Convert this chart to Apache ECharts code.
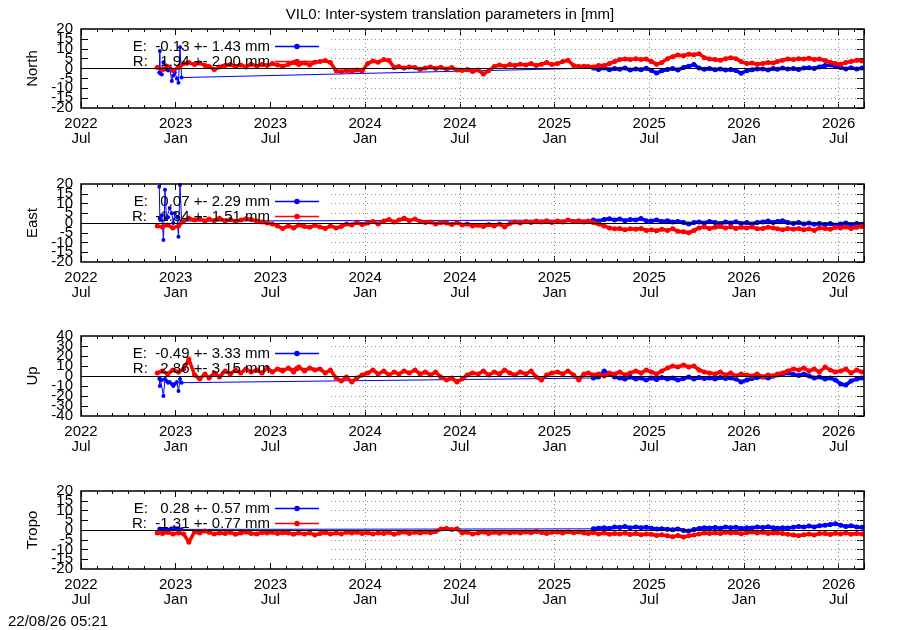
<!DOCTYPE html>
<html>
<head>
<meta charset="utf-8">
<title>VIL0 inter-system translation</title>
<script src="https://cdn.jsdelivr.net/npm/echarts@6/dist/echarts.min.js"></script>
<style>
  html, body { margin: 0; padding: 0; background: #fff; }
  #chart { width: 900px; height: 630px; }
</style>
</head>
<body>
<div id="chart"></div>
<script>
const FONT = "'Liberation Sans', Arial, sans-serif";
const FS = 15;
const DAY = 86400000;
const START = Date.UTC(2022, 6, 1);   // x axis starts 2022 Jul
const X_MAX = 1510;                   // days, ~2026-08-20
const HALF_YEAR = 182.625;
const MONTH = 30.4375;
const GRID_FROM = 482;                // key box hides the grid left of ~2023-10-26
const MONTHS = ["Jan", "Feb", "Mar", "Apr", "May", "Jun", "Jul", "Aug", "Sep", "Oct", "Nov", "Dec"];

// sample dates: three per month (5th, 15th, 25th)
function tenDays(from, to) {
  const out = [];
  let [y, m] = from.split("-").map(Number);
  const [y2, m2] = to.split("-").map(Number);
  while (y < y2 || (y === y2 && m <= m2)) {
    const mm = String(m).padStart(2, "0");
    out.push(`${y}-${mm}-05`, `${y}-${mm}-15`, `${y}-${mm}-25`);
    m++;
    if (m > 12) { m = 1; y++; }
  }
  return out;
}

const redDates = ["2022-11-25"].concat(tenDays("2022-12", "2026-07"), ["2026-08-05", "2026-08-15"]);
const blueEarlyDates = [
  "2022-11-29", "2022-11-30", "2022-12-01", "2022-12-04", "2022-12-07", "2022-12-10",
  "2022-12-13", "2022-12-16", "2022-12-19", "2022-12-23", "2022-12-26", "2022-12-29",
  "2023-01-02", "2023-01-05", "2023-01-08", "2023-01-11",
];
const blueLateDates = ["2025-03-15", "2025-03-25"].concat(tenDays("2025-04", "2026-07"), ["2026-08-05", "2026-08-15"]);
const blueDates = blueEarlyDates.concat(blueLateDates);

// ---- North ----
const northE_early = [-2.0, 8.9, -2.5, -3.0, 3.2, -0.5, 1.5, -1.0, 0.5, -6.3, -3.5, -2.0, -5.0, -7.2, 10.8, -4.6];
const northE_late = [
  0.2, -0.5,
  0.3, -0.6, 0.0, -0.4, 0.3, -0.8, -0.2, -0.6, 0.1, -1.0, -2.3, -1.2, -0.5, 0.0, -0.7,
  0.5, 1.2, 2.0, 0.2, -0.4, 0.0, -0.6, -0.2, -0.8, -0.5, -1.0, -2.4,
  -1.2, -0.6, -0.2, -0.2, -0.7, 0.0, -0.4, 0.2, -0.3, 0.0, -0.5, 0.3,
  0.4, 0.0, 0.8, 1.5, 1.8, 1.0, 0.5, -0.2, 0.4,
  -0.3, 0.2,
];
const northR = [
  0.5, -0.5, 1.0, -1.0,
  // 2023
  0.5, 2.5, 3.0, 2.0, 2.8, 1.5, 1.0, -0.5, 0.8, 1.5, 2.0, 1.0,
  1.8, 0.8, 2.2, 1.2, 2.0, 1.5, 2.5, 1.8, 1.0, 2.2, 3.0, 2.0,
  2.8, 1.8, 3.2, 3.5, 4.0, 3.0, -1.2, -1.6, -1.0, -1.5, -0.8, -1.3,
  // 2024
  2.5, 3.8, 3.2, 4.5, 4.0, 0.5, 1.0, 0.2, 0.8, 0.5, -0.5, 0.3,
  0.8, 0.0, 0.6, -0.3, 0.5, -0.8, -1.0, -0.5, -1.5, -0.8, -2.8, -1.2,
  1.0, 1.8, 1.2, 2.0, 1.5, 2.2, 1.8, 2.5, 1.5, 2.2, 3.0, 2.0,
  // 2025
  2.5, 3.5, 4.2, 1.5, 1.0, 1.2, 1.0, 0.8, 1.5, 1.5, 2.5, 3.5,
  4.5, 4.8, 4.5, 5.0, 4.5, 4.8, 3.5, 2.2, 3.0, 5.0, 6.0, 6.8,
  6.5, 7.2, 7.0, 7.5, 5.5, 4.8, 4.5, 4.2, 5.0, 5.5, 5.0, 3.5,
  // 2026
  2.5, 2.8, 2.2, 2.5, 3.0, 2.8, 3.5, 4.2, 4.8, 4.5, 5.0, 4.8,
  5.2, 4.5, 4.8, 4.0, 3.2, 2.5, 2.2, 3.0, 3.5, 4.2, 3.8,
];

// ---- East ----
const eastE_early = [18.6, 2.4, 1.5, 4.0, -8.7, 17.0, 2.4, 3.0, 7.7, 5.0, 0.0, 5.0, 3.0, -7.0, 19.5, 1.0];
const eastE_late = [
  1.5, 1.0,
  1.8, 2.2, 1.5, 2.0, 1.2, 1.8, 1.5, 2.3, 1.2, 1.0, 1.5, 0.8, 1.2, 0.5, 0.8,
  0.3, -0.5, 0.2, 0.5, 0.0, 0.8, 0.3, -0.3, 0.5, 0.0, 0.6, -0.2,
  0.2, -0.5, 0.3, 0.5, 1.0, 0.2, 0.8, 1.2, 0.3, -0.2, 0.3, -0.5,
  0.0, -0.6, -0.2, -0.8, -0.3, -1.0, -0.5, 0.0, -0.8,
  -0.3, -0.6,
];
const eastR = [
  -1.5, -2.0, -1.0, -2.5,
  // 2023
  -1.5, 1.0, 2.5, 1.5, 2.2, 1.0, 2.0, 1.2, 2.5, 1.0, 1.8, 0.8,
  1.5, 2.2, 1.8, 1.0, 0.5, 0.0, -0.5, -1.5, -2.8, -1.5, -2.5, -1.0,
  -1.8, -2.2, -1.2, -2.0, -2.8, -1.5, -2.5, -1.8, -0.5, -1.0, 0.2, -0.8,
  // 2024
  0.0, 0.8, -0.5, 1.0, 1.8, 0.5, 1.5, 2.5, 1.2, 2.0, 0.8, 0.2,
  0.5, -0.5, 0.3, 0.0, -0.8, 0.2, -1.0, -0.5, -1.5, -1.2, -1.8, -0.8,
  -1.5, -0.5, -2.0, -0.3, 0.5, 0.0, 0.8, 0.2, 1.0, 0.5, 1.2, 0.3,
  // 2025
  1.0, 0.5, 1.5, 0.8, 1.2, 0.5, 1.0, 0.2, -0.5, -1.5, -2.5, -3.0,
  -2.8, -3.5, -3.0, -3.2, -2.8, -3.8, -3.5, -4.0, -3.2, -3.8, -3.0, -4.2,
  -4.5, -5.0, -3.8, -2.5, -2.0, -2.8, -2.2, -1.8, -2.5, -2.0, -2.8, -2.2,
  // 2026
  -2.5, -2.0, -3.0, -2.8, -2.2, -2.5, -3.0, -3.5, -2.8, -3.2, -2.8, -3.5,
  -3.0, -3.8, -2.5, -2.8, -3.2, -2.2, -2.5, -2.0, -2.8, -2.2, -1.8,
];

// ---- Up ----
const upE_early = [-2.7, -10, -3, -4, -20, -3, -5, -6.7, -6, -8, -10, -8, -6, -15, -3, -6.7];
const upE_late = [
  -2, -1,
  5, 2, -1, -2, -3, -1, -3, -2, -4, -2, -3.5, -1.5, -3, -2, -4,
  -2.5, -1, -3, -1.5, -2.5, -2, -3, -1.5, -2.5, -2, -3, -6,
  -4, -2.5, -1.5, -1, -2, 0, 1, 2, 3, 1.5, 0.5, 2,
  0, -2, -1, -3, -2, -4, -8, -9, -5,
  -3, -2,
];
const upR = [
  3, 5, 2, 6,
  // 2023
  4, 7, 17, 1, -3, 2, -2, 3, -1, 5, 2, 6,
  3, 7, 4, 6, 3, 8, 4, 7, 5, 8, 4, 9,
  5, 8, 6, 7, 3, 6, -2, -5, -1, -6, -2, 1,
  // 2024
  3, 6, 2, 5, 1, 4, 2, 5, 3, 6, 2, 4,
  1, 4, -1, -4, -2, -6, -3, 1, 3, 2, 5, 1,
  4, 2, 6, 3, 1, 4, 2, 5, -1, -4, 1, 3,
  // 2025
  4, 2, 5, 1, -4, 2, 3, 1, 2, 0, 3, 2,
  4, 1, 3, 5, 3, 6, 4, 2, 5, 8, 10, 9,
  11, 9, 10, 6, 4, 3, 2, 4, 1, 3, 0, 2,
  // 2026
  1, 0, 2, -1, 1, 0, 2, 3, 5, 7, 6, 8,
  5, 7, 4, 9, 6, 4, 5, 7, 3, 6, 4,
];

// ---- Tropo ----
const tropoE_early = [0.5, 0.8, 0.2, 0.5, 0.0, 0.6, 0.3, -0.2, 0.4, 0.7, 0.9, 0.5, 0.8, 0.6, 0.3, 0.4];
const tropoE_late = [
  0.6, 0.9,
  1.2, 0.8, 1.5, 1.3, 1.8, 1.1, 1.6, 1.2, 1.4, 0.9, 0.5, 0.7, 0.4, 0.1, 0.5,
  -0.2, -0.5, 0.2, 0.8, 1.2, 1.0, 1.3, 0.9, 1.5, 1.1, 1.4, 0.8,
  1.2, 1.0, 1.5, 1.3, 1.7, 1.1, 0.9, 1.2, 1.0, 1.4, 1.8, 1.5,
  2.0, 1.6, 2.2, 2.4, 2.8, 3.2, 2.5, 1.8, 2.2,
  1.6, 1.4,
];
const tropoR = [
  -1.5, -1.8, -1.2, -2.0,
  // 2023
  -1.5, -2.0, -6.3, -1.0, -1.5, -0.5, -1.2, -2.0, -1.5, -1.8, -1.2, -2.2,
  -1.5, -1.0, -1.8, -2.0, -1.3, -1.6, -1.2, -1.8, -1.4, -1.6, -2.2, -1.5,
  -2.0, -1.5, -2.5, -1.8, -1.3, -2.0, -1.5, -2.0, -1.2, -1.6, -1.2, -1.8,
  // 2024
  -1.4, -2.0, -1.5, -1.8, -1.2, -2.2, -1.5, -1.0, -1.8, -1.2, -1.6, -1.0,
  -1.4, -0.8, 0.5, 0.8, 0.2, 0.6, -1.5, -1.2, -2.0, -1.6, -1.0, -1.8,
  -1.2, -1.7, -1.0, -1.5, -1.1, -1.6, -1.0, -1.4, -0.8, -1.3, -1.8, -1.2,
  // 2025
  -1.0, -1.5, -0.9, -1.4, -1.0, -1.6, -1.8, -1.3, -2.0, -1.5, -2.2, -1.8,
  -2.0, -1.6, -2.3, -1.8, -2.4, -2.0, -2.2, -2.8, -2.4, -3.0, -3.5, -2.8,
  -3.6, -3.0, -2.5, -2.0, -1.6, -1.8, -1.5, -1.8, -1.2, -1.6, -1.3, -1.9,
  // 2026
  -1.4, -1.0, -1.6, -1.2, -1.8, -1.5, -1.5, -1.8, -2.2, -2.6, -2.9, -2.4,
  -2.0, -2.5, -1.8, -1.8, -2.3, -1.7, -2.0, -1.5, -2.2, -1.8, -2.0,
];

const panels = [
  { name: "North", top: 29, height: 79, lim: 20, step: 5,
    eKey: "E:  -0.13 +- 1.43 mm", rKey: "R:   1.94 +- 2.00 mm",
    e: northE_early.concat(northE_late), r: northR },
  { name: "East", top: 184, height: 78, lim: 20, step: 5,
    eKey: "E:   0.07 +- 2.29 mm", rKey: "R:  -1.34 +- 1.51 mm",
    e: eastE_early.concat(eastE_late), r: eastR },
  { name: "Up", top: 336, height: 80, lim: 40, step: 10,
    eKey: "E:  -0.49 +- 3.33 mm", rKey: "R:   2.86 +- 3.15 mm",
    e: upE_early.concat(upE_late), r: upR },
  { name: "Tropo", top: 491, height: 78, lim: 20, step: 5,
    eKey: "E:   0.28 +- 0.57 mm", rKey: "R:  -1.31 +- 0.77 mm",
    e: tropoE_early.concat(tropoE_late), r: tropoR },
];

function dayOf(s) {
  const p = s.split("-").map(Number);
  return (Date.UTC(p[0], p[1] - 1, p[2]) - START) / DAY;
}

function tickLabel(v) {
  if (v > X_MAX - 20) return "";
  const d = new Date(START + (v + 15) * DAY);
  return d.getUTCFullYear() + "\n" + MONTHS[d.getUTCMonth()];
}

const blueX = blueDates.map(dayOf);
const redX = redDates.map(dayOf);
const nEarly = blueEarlyDates.length;

const grid = [], xAxis = [], yAxis = [], series = [], legend = [];
const black = { color: "#000" };
const yLabelStyle = { fontSize: FS, margin: 8, color: "#000", fontFamily: FONT };

panels.forEach((p, i) => {
  if (p.e.length !== blueX.length || p.r.length !== redX.length) {
    throw new Error(p.name + " length mismatch " + p.e.length + "/" + blueX.length + " " + p.r.length + "/" + redX.length);
  }

  grid.push({
    left: 81, right: 36, top: p.top, height: p.height,
    show: true, borderColor: "#000", borderWidth: 1.5,
    backgroundColor: "transparent", z: 6,
  });

  const xBase = {
    type: "value", gridIndex: i, min: 0, max: X_MAX,
    axisLine: { show: false, onZero: false },
    splitLine: { show: false },
  };
  xAxis.push(
    { ...xBase, position: "bottom", interval: HALF_YEAR,
      axisTick: { inside: true, length: 6, lineStyle: black },
      axisLabel: { formatter: tickLabel, fontSize: FS, lineHeight: 15, margin: 8, color: "#000", fontFamily: FONT,
                   showMinLabel: true } },
    { ...xBase, position: "top", interval: HALF_YEAR,
      axisTick: { inside: true, length: 6, lineStyle: black }, axisLabel: { show: false } },
    { ...xBase, position: "bottom", interval: MONTH,
      axisTick: { inside: true, length: 3, lineStyle: black }, axisLabel: { show: false } },
    { ...xBase, position: "top", interval: MONTH,
      axisTick: { inside: true, length: 3, lineStyle: black }, axisLabel: { show: false } }
  );

  const yBase = {
    type: "value", gridIndex: i, min: -p.lim, max: p.lim, interval: p.step,
    axisLine: { show: false, onZero: false },
    splitLine: { show: false },
    axisTick: { inside: true, length: 7, lineStyle: black },
  };
  yAxis.push(
    // inner labels (overlapping like the original)
    { ...yBase, position: "left",
      axisLabel: { ...yLabelStyle, showMinLabel: false, showMaxLabel: false },
      name: p.name, nameLocation: "middle", nameGap: 41,
      nameTextStyle: { fontSize: FS, color: "#000", fontFamily: FONT } },
    { ...yBase, position: "right", axisLabel: { show: false } },
    // end labels only
    { ...yBase, position: "left", axisTick: { show: false },
      axisLabel: { ...yLabelStyle, showMinLabel: true, showMaxLabel: true,
                   formatter: (v) => (Math.abs(v) === p.lim ? String(v) : "") } }
  );

  const xi = 4 * i, yi = 3 * i;

  // dotted grid, hidden behind the key box on the left
  const gridLines = [];
  for (let v = -p.lim + p.step; v < p.lim; v += p.step) {
    if (v !== 0) gridLines.push([{ coord: [GRID_FROM, v] }, { coord: [X_MAX, v] }]);
  }
  for (let k = 3; k * HALF_YEAR < X_MAX; k++) {
    gridLines.push([{ coord: [k * HALF_YEAR, -p.lim] }, { coord: [k * HALF_YEAR, p.lim] }]);
  }
  series.push({
    type: "line", name: "grid" + i, xAxisIndex: xi, yAxisIndex: yi, data: [], silent: true,
    markLine: {
      z: 1, silent: true, symbol: ["none", "none"], label: { show: false },
      lineStyle: { type: [1, 3], color: "#8a8a8a", width: 1 },
      emphasis: { disabled: true },
      data: gridLines,
    },
  });

  const eData = p.e.map((v, k) => [blueX[k], v]);
  series.push({
    type: "line", name: p.eKey, xAxisIndex: xi, yAxisIndex: yi, z: 2,
    data: eData,
    symbol: "circle", symbolSize: 4,
    lineStyle: { color: "#0000ff", width: 1 },
    itemStyle: { color: "#0000ff" },
    emphasis: { disabled: true },
  });
  // dense daily E solutions after the gap: draw as a thick band
  series.push({
    type: "line", name: "eband" + i, xAxisIndex: xi, yAxisIndex: yi, z: 2,
    data: eData.slice(nEarly),
    symbol: "circle", symbolSize: 5,
    lineStyle: { color: "#0000ff", width: 3.5 },
    itemStyle: { color: "#0000ff" },
    emphasis: { disabled: true },
  });
  series.push({
    type: "line", name: p.rKey, xAxisIndex: xi, yAxisIndex: yi, z: 3,
    data: p.r.map((v, k) => [redX[k], v]),
    symbol: "circle", symbolSize: 5,
    lineStyle: { color: "#ff0000", width: 3.5 },
    itemStyle: { color: "#ff0000" },
    emphasis: { disabled: true },
  });

  // zero line in front
  series.push({
    type: "line", name: "zero" + i, xAxisIndex: xi, yAxisIndex: yi, data: [], silent: true,
    markLine: {
      z: 5, silent: true, symbol: ["none", "none"], label: { show: false },
      lineStyle: { type: "solid", color: "#000", width: 1.2 },
      emphasis: { disabled: true },
      data: [{ yAxis: 0 }],
    },
  });

  legend.push({
    data: [p.eKey, p.rKey],
    orient: "vertical", align: "right",
    left: 115, top: p.top + 10, padding: 0,
    itemWidth: 44, itemHeight: 7, itemGap: 0,
    selectedMode: false,
    lineStyle: { width: 1.5 },
    formatter: (n) => "{t|" + n + "}",
    textStyle: {
      color: "#000", fontSize: FS, fontFamily: FONT,
      rich: { t: { width: 155, align: "right", fontSize: FS, lineHeight: 15, color: "#000", fontFamily: FONT } },
    },
  });
});

const chart = echarts.init(document.getElementById("chart"), null, { renderer: "canvas" });
chart.setOption({
  backgroundColor: "#fff",
  animation: false,
  title: [
    { text: "VIL0: Inter-system translation parameters in [mm]", left: "center", top: 7, padding: 0,
      textStyle: { fontSize: FS, fontWeight: "normal", color: "#000", fontFamily: FONT } },
    { text: "22/08/26 05:21", left: 8, top: 614, padding: 0,
      textStyle: { fontSize: FS, fontWeight: "normal", color: "#000", fontFamily: FONT } },
  ],
  tooltip: { show: false },
  legend,
  grid,
  xAxis,
  yAxis,
  series,
});
</script>
</body>
</html>
